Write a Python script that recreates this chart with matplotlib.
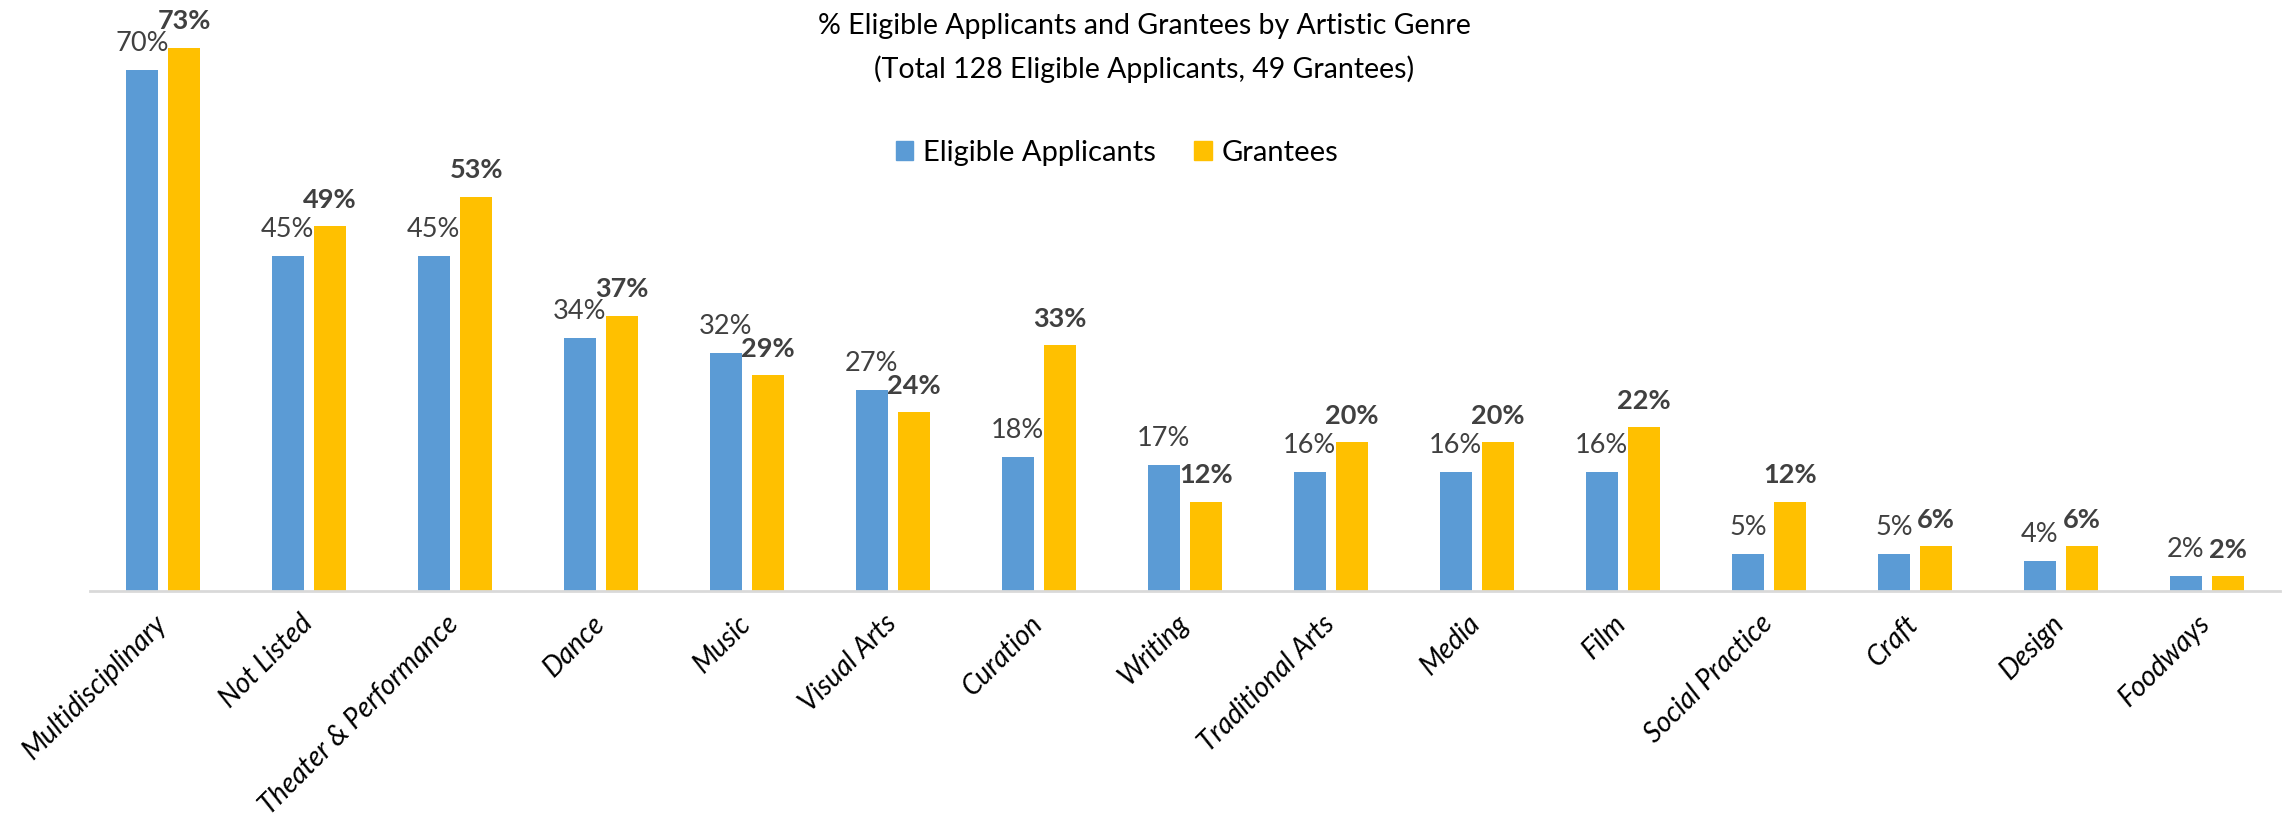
import matplotlib
matplotlib.use("Agg")
import matplotlib.pyplot as plt
import matplotlib.patches as mpatches
import matplotlib.transforms as mtransforms
import numpy as np

plt.rcParams['font.family'] = ['Lato', 'DejaVu Sans']

genres = ["Multidisciplinary", "Not Listed", "Theater & Performance", "Dance", "Music",
          "Visual Arts", "Curation", "Writing", "Traditional Arts", "Media", "Film",
          "Social Practice", "Craft", "Design", "Foodways"]
applicants = [70, 45, 45, 34, 32, 27, 18, 17, 16, 16, 16, 5, 5, 4, 2]
grantees = [73, 49, 53, 37, 29, 24, 33, 12, 20, 20, 22, 12, 6, 6, 2]

blue = "#5B9BD5"
gold = "#FFC000"
label_grey = "#404040"

W, H = 2288, 826
fig = plt.figure(figsize=(W / 100, H / 100), dpi=100)

# plot area in pixels
x0, x1 = 90, 2280
y_axis = 591
y_top = 30
ax = fig.add_axes([x0 / W, (H - y_axis) / H, (x1 - x0) / W, (y_axis - y_top) / H])

px_per_pct = 7.44
ax.set_ylim(0, (y_axis - y_top) / px_per_pct)
ax.set_xlim(-0.5, len(genres) - 0.5)

x = np.arange(len(genres))
bw = 0.22
off = 0.145
ax.bar(x - off, applicants, bw, color=blue, label="Eligible Applicants")
ax.bar(x + off, grantees, bw, color=gold, label="Grantees")

for xi, v in zip(x, applicants):
    ax.annotate(f"{v}%", (xi - off, v), xytext=(0, 19), textcoords="offset points",
                ha="center", va="center", fontsize=19.5, color=label_grey,
                annotation_clip=False)
for xi, v in zip(x, grantees):
    ax.annotate(f"{v}%", (xi + off, v), xytext=(0, 19), textcoords="offset points",
                ha="center", va="center", fontsize=19.5, color=label_grey,
                fontweight="bold", annotation_clip=False)

for s in ["top", "right", "left"]:
    ax.spines[s].set_visible(False)
ax.spines["bottom"].set_color("#D9D9D9")
ax.spines["bottom"].set_linewidth(2)
ax.set_yticks([])
ax.set_xticks(x)
ax.set_xticklabels(genres, rotation=45, ha="right", rotation_mode="anchor",
                   fontsize=20, style="italic")
ax.tick_params(axis="x", length=0, pad=14)
shift = mtransforms.ScaledTranslation(-0.1, 0, fig.dpi_scale_trans)
for lab in ax.get_xticklabels():
    lab.set_transform(lab.get_transform() + shift)

fig.text(0.5, 1 - 26 / H, "% Eligible Applicants and Grantees by Artistic Genre",
         ha="center", va="center", fontsize=20.5)
fig.text(0.5, 1 - 69 / H, "(Total 128 Eligible Applicants, 49 Grantees)",
         ha="center", va="center", fontsize=20.5)

handles = [mpatches.Patch(color=blue, label="Eligible Applicants"),
           mpatches.Patch(color=gold, label="Grantees")]
fig.legend(handles=handles, loc="center", bbox_to_anchor=(1117 / W, 1 - 153 / H),
           ncol=2, frameon=False, fontsize=21, handlelength=0.6, handleheight=0.6,
           handletextpad=0.35, columnspacing=1.3)

fig.savefig("out.png", dpi=100)
